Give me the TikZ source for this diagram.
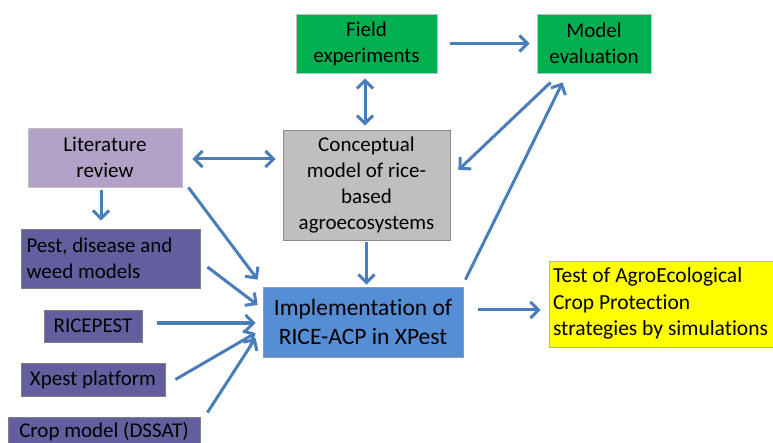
\documentclass[tikz,border=0pt]{standalone}
\usepackage{fontspec}
\setmainfont[RawFeature={-liga;-clig;-calt;-dlig}]{Carlito}
\usetikzlibrary{arrows.meta,calc}
\definecolor{cgreen}{HTML}{00B050}
\definecolor{clilac}{HTML}{B3A2C7}
\definecolor{cgray}{HTML}{BFBFBF}
\definecolor{cpurple}{HTML}{635F9F}
\definecolor{cblue}{HTML}{558ED5}
\definecolor{cyellow}{HTML}{FFFF00}
\definecolor{carrow}{HTML}{4A7EBB}
\newcommand{\leftlines}[2]{\makebox[#1][l]{\begin{tabular}{@{}l@{}}#2\end{tabular}}}
\begin{document}
\begin{tikzpicture}[x=1pt,y=-1pt,
  box/.style={draw=black!25,line width=0.8pt,inner sep=0pt,align=center,
    font=\fontsize{21}{26}\selectfont},
  conn/.style={draw=carrow,line width=3pt,-{Straight Barb[length=8pt,width=16pt,line width=3pt]}},
  dconn/.style={draw=carrow,line width=3pt,{Straight Barb[length=8pt,width=16pt,line width=3pt]}-{Straight Barb[length=8pt,width=16pt,line width=3pt]}}]
\useasboundingbox (0,0) rectangle (773,443);
\node[box,fill=cgreen,minimum width=141pt,minimum height=59pt] (field) at (366.5,43.5) {Field\\experiments};
\node[box,fill=cgreen,minimum width=114pt,minimum height=59pt] (model) at (594,43.5) {Model\\evaluation};
\node[box,fill=clilac,minimum width=154pt,minimum height=59pt] (lit) at (105,157.5) {Literature\\review};
\node[box,fill=cgray,draw=black!45,minimum width=167pt,minimum height=110pt] (concept) at (366.5,185) {Conceptual\\model of rice-\\based\\agroecosystems};
\node[box,fill=cpurple,draw=black!50,minimum width=179pt,minimum height=59pt] (pest) at (110.5,258.5) {\leftlines{168pt}{\raisebox{-2pt}{Pest, disease and}\\\raisebox{-2pt}{weed models}}};
\node[box,fill=cpurple,draw=black!50,minimum width=98pt,minimum height=32pt] (ricepest) at (93,326) {RICEPEST};
\node[box,fill=cpurple,draw=black!50,minimum width=144pt,minimum height=33pt] (xpest) at (93,379.5) {Xpest platform};
\node[box,fill=cpurple,draw=black!50,minimum width=192pt,minimum height=30pt] (crop) at (104,432) {Crop model (DSSAT)};
\node[box,fill=cblue,draw=black!40,minimum width=200pt,minimum height=70pt,font=\fontsize{23.5}{29}\selectfont] (impl) at (363,322) {Implementation of\\RICE-ACP in XPest};
\node[box,fill=cyellow,draw=black!30,minimum width=226pt,minimum height=86pt,font=\fontsize{21.5}{26.5}\selectfont] (test) at (662,304) {\leftlines{218pt}{Test of AgroEcological\\Crop Protection\\strategies by simulations}};
\draw[conn] ($(field.east)+(13,0)$) -- ($(model.west)+(-7,0)$);
\draw[dconn] ($(field.south)+(-1.5,5)$) -- ($(concept.north)+(-1.5,-4)$);
\draw[dconn] ($(lit.east)+(10,1.5)$) -- ($(concept.west)+(-7,-26)$);
\draw[conn] ($(model.south west)+(14,9)$) -- ($(concept.east)+(8,-15)$);
\draw[conn] ($(impl.north east)+(2,-7)$) -- ($(model.south west)+(26,9)$);
\draw[conn] ($(concept.south)+(0,2)$) -- ($(concept.south |- impl.north)+(0,-2)$);
\draw[conn] ($(lit.south)+(-4,3)$) -- ($(lit.south |- pest.north)+(-4,-8)$);
\draw[conn] ($(lit.south east)+(6,0)$) -- ($(impl.north west)+(-5,-7)$);
\draw[conn] ($(pest.east)+(7,8.5)$) -- ($(impl.west)+(-5,-17)$);
\draw[conn] ($(ricepest.east)+(15,-3)$) -- ($(impl.west)+(-7,1)$);
\draw[conn] ($(xpest.east)+(10,0)$) -- ($(impl.west)+(-7,11)$);
\draw[conn] ($(crop.north east)+(7,-4)$) -- ($(impl.west)+(-7,16)$);
\draw[conn] ($(impl.east)+(15,-12)$) -- ($(test.west)+(-8,6)$);
\end{tikzpicture}
\end{document}
